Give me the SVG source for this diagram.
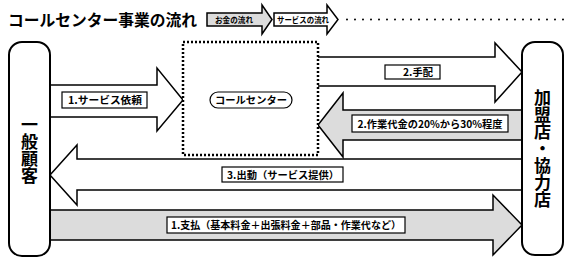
<svg xmlns="http://www.w3.org/2000/svg" width="571" height="263" viewBox="0 0 571 263">
<style>
text{font-family:"Noto Sans CJK JP","Noto Sans CJK SC",sans-serif;font-weight:bold;fill:#000}
.arrow{stroke:#000;stroke-width:1.5;stroke-linejoin:miter}
.white{fill:#fff}
.gray{fill:#dcdcdc}
.lbl{fill:#fff;stroke:#000;stroke-width:1.2}
.lt{font-size:10px;text-anchor:middle}
.vt{font-size:17px;writing-mode:vertical-rl;text-anchor:start}
.node{fill:#fff;stroke:#000;stroke-width:2}
</style>
<rect width="571" height="263" fill="#fff"/>
<g id="title">
<text x="8" y="26" font-size="16" textLength="189" lengthAdjust="spacingAndGlyphs">コールセンター事業の流れ</text>
</g>
<g id="legend">
<path class="arrow gray" d="M207,13 H262 V5 L272,19.5 L262,34 V26 H207 Z"/>
<text x="234" y="23" font-size="8" text-anchor="middle" textLength="38" lengthAdjust="spacingAndGlyphs">お金の流れ</text>
<path class="arrow white" d="M274,13 H327 V5 L338,19.5 L327,34 V26 H274 Z"/>
<text x="303" y="23" font-size="8" text-anchor="middle" textLength="52" lengthAdjust="spacingAndGlyphs">サービスの流れ</text>
<line x1="347" y1="19.5" x2="566" y2="19.5" stroke="#000" stroke-width="2" stroke-linecap="round" stroke-dasharray="0 8"/>
</g>
<g id="connectors">
<g id="c1">
<path class="arrow white" d="M50,85 H157 V68 L183,100 L157,131 V117 H50"/>
<rect class="lbl" x="62" y="92" width="85" height="16"/>
<text class="lt" x="105" y="104" textLength="74" lengthAdjust="spacingAndGlyphs">1.サービス依頼</text>
</g>
<g id="c2">
<path class="arrow white" d="M318,57 H495 V43 L522,72 L495,102 V86 H318"/>
<rect class="lbl" x="385" y="65" width="55" height="14"/>
<text class="lt" x="418" y="76" textLength="30" lengthAdjust="spacingAndGlyphs">2.手配</text>
</g>
<g id="c3">
<path class="arrow gray" d="M522,110 H343 V93 L318,125 L343,157 V140 H522"/>
<rect class="lbl" x="352" y="115" width="156" height="17"/>
<text class="lt" x="430" y="128" textLength="145" lengthAdjust="spacingAndGlyphs">2.作業代金の20%から30%程度</text>
</g>
<g id="c4">
<path class="arrow white" d="M522,159 H77 V145 L50,175 L77,205 V190 H522"/>
<rect class="lbl" x="222" y="167" width="121" height="15"/>
<text class="lt" x="283" y="179" textLength="112" lengthAdjust="spacingAndGlyphs">3.出動（サービス提供）</text>
</g>
<g id="c5">
<path class="arrow gray" d="M50,210 H493 V195 L522,225 L493,255 V240 H50"/>
<rect class="lbl" x="167" y="217" width="238" height="16"/>
<text class="lt" x="286" y="229" textLength="230" lengthAdjust="spacingAndGlyphs">1.支払（基本料金＋出張料金＋部品・作業代など）</text>
</g>
</g>
<g id="callcenter">
<rect x="183" y="42" width="135" height="113" fill="#fff" stroke="#000" stroke-width="2.5" stroke-dasharray="2 2"/>
<rect x="210" y="92" width="82" height="16" rx="8" fill="#fff" stroke="#000" stroke-width="1.2"/>
<text x="251" y="104" font-size="10" text-anchor="middle" textLength="72" lengthAdjust="spacingAndGlyphs">コールセンター</text>
</g>
<g id="customer">
<rect class="node" x="9" y="42" width="41" height="214" rx="13"/>
<text class="vt" x="29.5" y="116">一般顧客</text>
</g>
<g id="shop">
<rect class="node" x="522" y="42" width="41" height="213" rx="13"/>
<text class="vt" x="542.5" y="89">加盟店・協力店</text>
</g>
</svg>
